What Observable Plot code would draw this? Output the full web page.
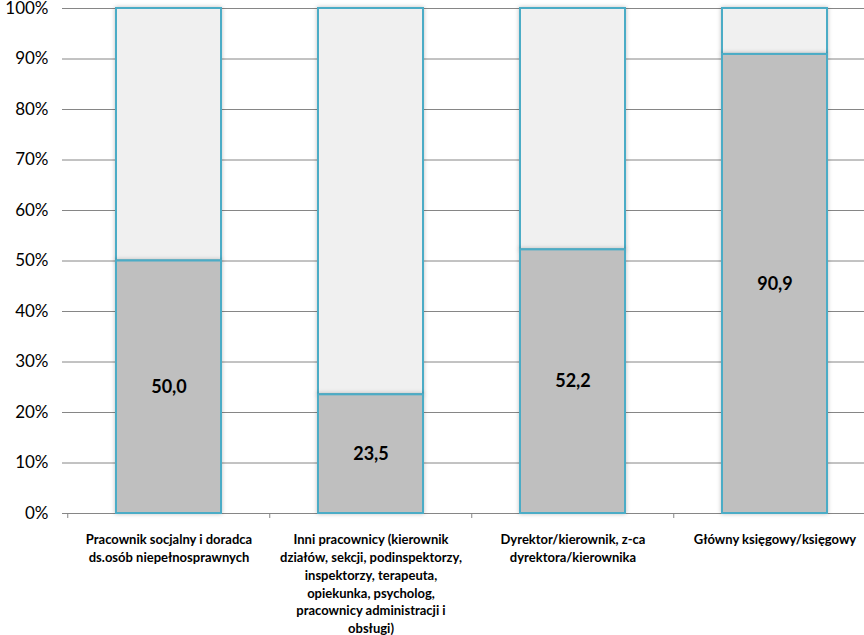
<!DOCTYPE html>
<html>
<head>
<meta charset="utf-8">
<script src="https://cdn.jsdelivr.net/npm/d3@7"></script>
<script src="https://cdn.jsdelivr.net/npm/@observablehq/plot@0.6"></script>
<style>
  html, body { margin: 0; padding: 0; background: #fff; overflow: hidden; }
  #chart svg { overflow: hidden; }
</style>
</head>
<body>
<div id="chart"></div>
<script>
const categories = [
  "Pracownik socjalny i doradca\nds.osób niepełnosprawnych",
  "Inni pracownicy (kierownik\ndziałów, sekcji, podinspektorzy,\ninspektorzy, terapeuta,\nopiekunka, psycholog,\npracownicy administracji i\nobsługi)",
  "Dyrektor/kierownik, z-ca\ndyrektora/kierownika",
  "Główny księgowy/księgowy"
];
const values = [50.0, 23.5, 52.2, 90.9];
const valueLabels = ["50,0", "23,5", "52,2", "90,9"];
const yTicks = [0, 10, 20, 30, 40, 50, 60, 70, 80, 90, 100];

const data = categories.map((c, i) => ({cat: c, v: values[i], label: valueLabels[i]}));

const W = 864, H = 635;
const mL = 67, mR = -13, mT = 8, mB = 122;
const step = (W - mR - mL) / categories.length;
const font = "Lato, 'Open Sans', sans-serif";

const chart = Plot.plot({
  width: W,
  height: H,
  marginLeft: mL,
  marginRight: mR,
  marginTop: mT,
  marginBottom: mB,
  style: {fontFamily: font, background: "#fff"},
  x: {domain: categories, paddingInner: 0.479, paddingOuter: 0.2395, axis: null, label: null},
  y: {domain: [0, 100], axis: null, label: null},
  marks: [
    Plot.gridY(yTicks, {stroke: "#868686", strokeOpacity: 1, strokeWidth: 1}),
    Plot.axisY(yTicks, {
      tickFormat: d => d + "%", tickSize: 5, tickPadding: 14, label: null,
      stroke: "#868686", fontSize: 17, fill: "#000"
    }),
    Plot.ruleX([0], {x: () => 0, stroke: "#868686", frameAnchor: "left"}),
    Plot.axisX(categories, {
      tickFormat: () => "", tickSize: 5, dx: -step / 2, stroke: "#868686", label: null
    }),
    Plot.axisX(categories, {
      tickSize: 0, tickPadding: 18, fontSize: 13, fontWeight: "bold", label: null,
      fill: "#000", lineHeight: 1.37
    }),
    Plot.barY(data, {x: "cat", y1: "v", y2: () => 100, fill: "#f0f0f0", stroke: "#4bacc6", strokeWidth: 2}),
    Plot.barY(data, {x: "cat", y1: () => 0, y2: "v", fill: "#bfbfbf", stroke: "#4bacc6", strokeWidth: 2}),
    Plot.text(data, {x: "cat", y: d => d.v / 2, text: "label", fontSize: 18, fontWeight: "bold", fill: "#000"})
  ]
});

d3.select(chart).selectAll('g[aria-label="bar"]').style("filter", "drop-shadow(0 0 2px rgba(0,0,0,0.25))");
document.getElementById("chart").appendChild(chart);
</script>
</body>
</html>
